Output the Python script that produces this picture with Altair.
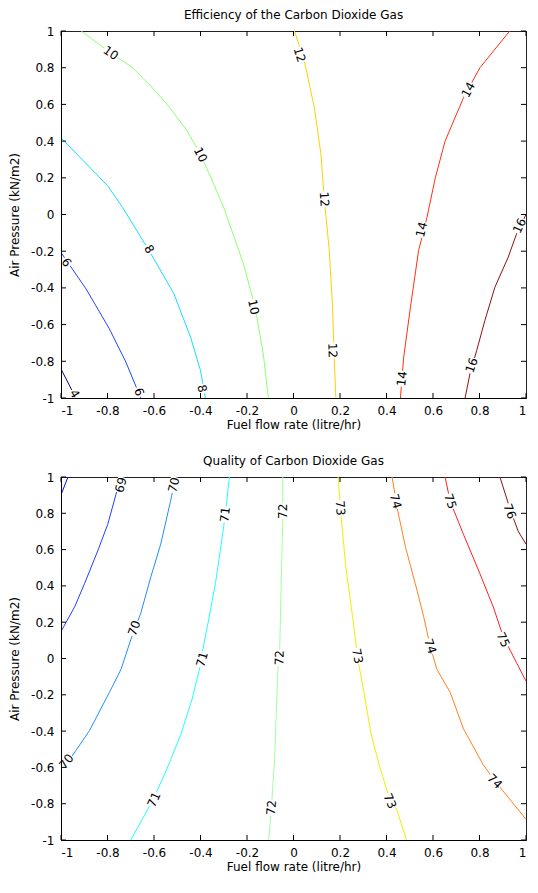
import altair as alt
import pandas as pd

TICKS = [-1, -0.8, -0.6, -0.4, -0.2, 0, 0.2, 0.4, 0.6, 0.8, 1]

# ---- Efficiency of the Carbon Dioxide Gas (contour lines) ----
EFF_LEVELS = [4, 6, 8, 10, 12, 14, 16]
EFF_COLORS = ["#00008F", "#1F45FF", "#10DFFF", "#8FFF70", "#FFCF00", "#FF3010", "#8F1010"]
E4_X = [-1.0, -0.936]
E4_Y = [-0.842, -1.0]
E6_X = [-1.0, -0.892, -0.792, -0.721, -0.657]
E6_Y = [-0.207, -0.406, -0.623, -0.804, -1.0]
E8_X = [-1.0, -0.799, -0.735, -0.621, -0.514, -0.443, -0.4, -0.379]
E8_Y = [0.418, 0.156, 0.038, -0.197, -0.433, -0.668, -0.85, -1.0]
E10_X = [-0.913, -0.785, -0.692, -0.614, -0.543, -0.457, -0.4, -0.343, -0.3, -0.215, -0.165, -0.13, -0.108]
E10_Y = [1.0, 0.88, 0.8, 0.7, 0.6, 0.455, 0.328, 0.165, 0.038, -0.27, -0.505, -0.76, -1.0]
E12_X = [0.004, 0.047, 0.09, 0.118, 0.132, 0.154, 0.168, 0.175, 0.182]
E12_Y = [1.0, 0.835, 0.58, 0.328, 0.09, -0.197, -0.505, -0.777, -1.0]
E14_X = [0.93, 0.802, 0.731, 0.652, 0.61, 0.574, 0.538, 0.503, 0.474, 0.46]
E14_Y = [1.0, 0.8, 0.636, 0.4, 0.2, -0.016, -0.197, -0.505, -0.777, -1.0]
E16_X = [1.0, 0.959, 0.923, 0.866, 0.823, 0.788, 0.759, 0.738]
E16_Y = [0.0, -0.107, -0.234, -0.397, -0.578, -0.741, -0.868, -1.0]

EFF_LAB_TEXT = ["4", "6", "6", "8", "8", "10", "10", "10", "12", "12", "12", "14", "14", "14", "16", "16"]
EFF_LAB_X = [-0.941, -0.977, -0.664, -0.621, -0.393, -0.786, -0.400, -0.172, 0.026, 0.132, 0.168, 0.752, 0.551, 0.467, 0.973, 0.766]
EFF_LAB_Y = [-0.977, -0.261, -0.967, -0.189, -0.949, 0.880, 0.326, -0.505, 0.870, 0.083, -0.741, 0.679, -0.082, -0.895, -0.061, -0.822]
EFF_LAB_ANGLE = [60, 56, 70, 59, 77, 35, 63, 77, 72, 86, 88, 299, 284, 277, 295, 289]

# ---- Quality of Carbon Dioxide Gas (contour lines) ----
QUA_LEVELS = [68, 69, 70, 71, 72, 73, 74, 75, 76]
QUA_COLORS = ["#0010DF", "#1F40FF", "#1F8FFF", "#1FFFFF", "#A0FF9F", "#EFEF00", "#FF7F1F", "#FF1F1F", "#8F1010"]
Q68_X = [-0.970, -1.0]
Q68_Y = [1.0, 0.902]
Q69_X = [-0.742, -0.764, -0.799, -0.842, -0.899, -0.941, -1.0]
Q69_Y = [1.0, 0.902, 0.739, 0.593, 0.412, 0.285, 0.149]
Q70_X = [-0.507, -0.529, -0.571, -0.614, -0.657, -0.7, -0.742, -0.792, -0.877, -0.949, -1.0]
Q70_Y = [1.0, 0.866, 0.63, 0.448, 0.249, 0.103, -0.06, -0.187, -0.396, -0.532, -0.613]
Q71_X = [-0.276, -0.293, -0.315, -0.336, -0.365, -0.393, -0.403, -0.436, -0.486, -0.543, -0.6, -0.642, -0.7]
Q71_Y = [1.0, 0.793, 0.593, 0.412, 0.212, 0.031, -0.051, -0.223, -0.423, -0.604, -0.767, -0.867, -1.0]
Q72_X = [-0.046, -0.046, -0.053, -0.06, -0.067, -0.081, -0.095, -0.107]
Q72_Y = [1.0, 0.775, 0.412, 0.013, -0.051, -0.55, -0.822, -1.0]
Q73_X = [0.192, 0.204, 0.225, 0.254, 0.275, 0.282, 0.303, 0.332, 0.368, 0.403, 0.446, 0.486]
Q73_Y = [1.0, 0.793, 0.502, 0.23, 0.013, -0.042, -0.187, -0.405, -0.586, -0.731, -0.84, -1.0]
Q74_X = [0.424, 0.446, 0.482, 0.524, 0.56, 0.588, 0.617, 0.674, 0.731, 0.816, 0.873, 0.937, 1.0]
Q74_Y = [1.0, 0.829, 0.611, 0.412, 0.23, 0.067, -0.06, -0.187, -0.387, -0.586, -0.686, -0.786, -0.886]
Q75_X = [0.652, 0.674, 0.731, 0.802, 0.859, 0.902, 0.959, 1.0]
Q75_Y = [1.0, 0.866, 0.684, 0.467, 0.285, 0.121, -0.023, -0.124]
Q76_X = [0.888, 0.93, 0.966, 1.0]
Q76_Y = [1.0, 0.829, 0.702, 0.63]

QUA_LAB_TEXT = ["69", "70", "70", "70", "71", "71", "71", "72", "72", "72", "73", "73", "73", "74", "74", "74", "75", "75", "76"]
QUA_LAB_X = [-0.742, -0.514, -0.685, -0.977, -0.294, -0.393, -0.600, -0.046, -0.060, -0.095, 0.201, 0.275, 0.415, 0.439, 0.588, 0.866, 0.674, 0.902, 0.930]
QUA_LAB_Y = [0.956, 0.956, 0.167, -0.568, 0.793, -0.005, -0.777, 0.811, 0.004, -0.822, 0.829, 0.013, -0.786, 0.866, 0.067, -0.677, 0.866, 0.103, 0.811]
QUA_LAB_ANGLE = [286, 284, 290, 309, 277, 285, 294, 270, 272, 274, 86, 78, 66, 75, 72, 45, 72, 65, 70]

FONT = "DejaVu Sans"
W = 465


def lines_frame(levels, xs_list, ys_list):
    rows = []
    for lev, xs, ys in zip(levels, xs_list, ys_list):
        for i, (x, y) in enumerate(zip(xs, ys)):
            rows.append({"level": lev, "i": i, "x": x, "y": y})
    return pd.DataFrame(rows)


def labels_frame(texts, xs, ys, angles):
    return pd.DataFrame({"text": texts, "x": xs, "y": ys, "angle": angles})


def panel(title, ldf, labdf, levels, colors, H):
    sc = alt.Scale(domain=[-1, 1], nice=False, zero=False)
    xaxis = alt.Axis(values=TICKS, labelExpr="'' + datum.value", ticks=False, grid=False,
                     domainColor="black", domainWidth=1, labelPadding=7, titlePadding=3, zindex=1)
    yaxis = alt.Axis(values=TICKS, labelExpr="'' + datum.value", ticks=False, grid=False,
                     domainColor="black", domainWidth=1, labelPadding=7, titlePadding=9, zindex=1)

    def X(f):
        return alt.X(f, scale=sc, axis=xaxis, title="Fuel flow rate (litre/hr)")

    def Y(f):
        return alt.Y(f, scale=sc, axis=yaxis, title="Air Pressure (kN/m2)")

    lines = alt.Chart(ldf).mark_line(strokeWidth=1, clip=True).encode(
        x=X("x:Q"), y=Y("y:Q"),
        color=alt.Color("level:N", scale=alt.Scale(domain=levels, range=colors), legend=None),
        detail="level:N", order=alt.Order("i:Q"))

    box2 = alt.Chart(labdf).transform_filter("length(datum.text) == 2").mark_point(
        shape="M-1,-0.62L1,-0.62L1,0.62L-1,0.62Z", filled=True, color="white", opacity=1,
        size=256, strokeWidth=0, clip=True).encode(
        x=X("x:Q"), y=Y("y:Q"), angle=alt.Angle("angle:Q", scale=None))
    box1 = alt.Chart(labdf).transform_filter("length(datum.text) == 1").mark_point(
        shape="square", filled=True, color="white", opacity=1,
        size=100, strokeWidth=0, clip=True).encode(
        x=X("x:Q"), y=Y("y:Q"), angle=alt.Angle("angle:Q", scale=None))
    texts = alt.Chart(labdf).mark_text(font=FONT, fontSize=12, color="black").encode(
        x=X("x:Q"), y=Y("y:Q"), text="text:N", angle=alt.Angle("angle:Q", scale=None))

    tdf = pd.DataFrame({"t": TICKS})
    tb = alt.Chart(tdf).mark_rule(color="black", strokeWidth=1).encode(
        x=X("t:Q"), y=alt.value(H), y2=alt.value(H - 5))
    tt = alt.Chart(tdf).mark_rule(color="black", strokeWidth=1).encode(
        x=X("t:Q"), y=alt.value(0), y2=alt.value(5))
    tl = alt.Chart(tdf).mark_rule(color="black", strokeWidth=1).encode(
        y=Y("t:Q"), x=alt.value(0), x2=alt.value(5))
    tr = alt.Chart(tdf).mark_rule(color="black", strokeWidth=1).encode(
        y=Y("t:Q"), x=alt.value(W), x2=alt.value(W - 5))

    return alt.layer(lines, box2, box1, texts, tb, tt, tl, tr).properties(
        width=W, height=H,
        title=alt.TitleParams(title, font=FONT, fontSize=12, fontWeight="normal", color="black", offset=3))


eff_lines = lines_frame(EFF_LEVELS, [E4_X, E6_X, E8_X, E10_X, E12_X, E14_X, E16_X],
                        [E4_Y, E6_Y, E8_Y, E10_Y, E12_Y, E14_Y, E16_Y])
eff_labels = labels_frame(EFF_LAB_TEXT, EFF_LAB_X, EFF_LAB_Y, EFF_LAB_ANGLE)
qua_lines = lines_frame(QUA_LEVELS, [Q68_X, Q69_X, Q70_X, Q71_X, Q72_X, Q73_X, Q74_X, Q75_X, Q76_X],
                        [Q68_Y, Q69_Y, Q70_Y, Q71_Y, Q72_Y, Q73_Y, Q74_Y, Q75_Y, Q76_Y])
qua_labels = labels_frame(QUA_LAB_TEXT, QUA_LAB_X, QUA_LAB_Y, QUA_LAB_ANGLE)

top = panel("Efficiency of the Carbon Dioxide Gas", eff_lines, eff_labels, EFF_LEVELS, EFF_COLORS, 367)
bottom = panel("Quality of Carbon Dioxide Gas", qua_lines, qua_labels, QUA_LEVELS, QUA_COLORS, 363)

chart = alt.vconcat(top, bottom, spacing=23).resolve_scale(color="independent").properties(
    padding={"left": 0, "top": 0, "right": 0, "bottom": 0}
).configure_view(stroke="#222222", strokeWidth=1).configure_axis(
    labelFont=FONT, labelFontSize=12, labelColor="black",
    titleFont=FONT, titleFontSize=12, titleFontWeight="normal", titleColor="black"
).configure_title(anchor="middle")

chart.save("out.html", embed_options={"renderer": "svg", "actions": False})
